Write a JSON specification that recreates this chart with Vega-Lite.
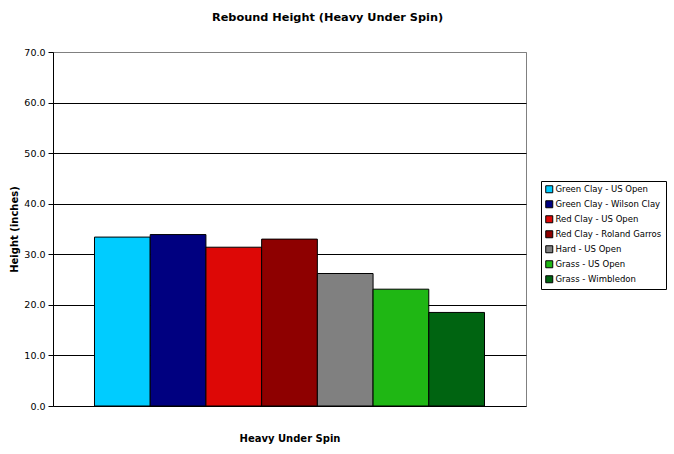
{
  "$schema": "https://vega.github.io/schema/vega-lite/v6.json",
  "width": 473,
  "height": 354,
  "autosize": {"type": "none"},
  "padding": {"left": 53, "top": 52, "right": 148, "bottom": 48},
  "background": "white",
  "title": {
    "text": "Rebound Height (Heavy Under Spin)",
    "font": "DejaVu Sans",
    "fontSize": 11.3,
    "fontWeight": "bold",
    "color": "black",
    "anchor": "start",
    "frame": "group",
    "dx": 159,
    "offset": 24
  },
  "data": {
    "values": [
      {"group": "Heavy Under Spin", "surface": "Green Clay - US Open", "height": 33.4},
      {"group": "Heavy Under Spin", "surface": "Green Clay - Wilson Clay", "height": 33.9},
      {"group": "Heavy Under Spin", "surface": "Red Clay - US Open", "height": 31.4},
      {"group": "Heavy Under Spin", "surface": "Red Clay - Roland Garros", "height": 33.0},
      {"group": "Heavy Under Spin", "surface": "Hard - US Open", "height": 26.2},
      {"group": "Heavy Under Spin", "surface": "Grass - US Open", "height": 23.1},
      {"group": "Heavy Under Spin", "surface": "Grass - Wimbledon", "height": 18.5}
    ]
  },
  "config": {
    "view": {"stroke": "#808080", "strokeWidth": 1},
    "font": "DejaVu Sans"
  },
  "mark": {"type": "bar", "stroke": "black", "strokeWidth": 1},
  "encoding": {
    "x": {
      "field": "group",
      "type": "nominal",
      "scale": {"paddingInner": 0, "paddingOuter": 0.1064},
      "axis": {
        "labels": false,
        "ticks": false,
        "domainColor": "black",
        "title": "Heavy Under Spin",
        "titleFont": "DejaVu Sans",
        "titleFontSize": 10,
        "titleFontWeight": "bold",
        "titleColor": "black",
        "titlePadding": 27
      }
    },
    "xOffset": {
      "field": "surface",
      "type": "nominal",
      "sort": ["Green Clay - US Open", "Green Clay - Wilson Clay", "Red Clay - US Open", "Red Clay - Roland Garros", "Hard - US Open", "Grass - US Open", "Grass - Wimbledon"],
      "scale": {"paddingInner": 0, "paddingOuter": 0}
    },
    "y": {
      "field": "height",
      "type": "quantitative",
      "scale": {"domain": [0, 70], "nice": false},
      "axis": {
        "values": [0, 10, 20, 30, 40, 50, 60, 70],
        "format": ".1f",
        "title": "Height (inches)",
        "titleFont": "DejaVu Sans",
        "titleFontSize": 10,
        "titleFontWeight": "bold",
        "titleColor": "black",
        "titlePadding": 4,
        "labelFont": "DejaVu Sans",
        "labelFontSize": 9.5,
        "labelColor": "black",
        "labelPadding": 3,
        "tickColor": "black",
        "tickSize": 5,
        "domainColor": "black",
        "grid": true,
        "gridColor": {"condition": {"test": "datum.value == 70 || datum.value == 0", "value": "#808080"}, "value": "black"},
        "gridOpacity": 1
      }
    },
    "color": {
      "field": "surface",
      "type": "nominal",
      "scale": {
        "domain": ["Green Clay - US Open", "Green Clay - Wilson Clay", "Red Clay - US Open", "Red Clay - Roland Garros", "Hard - US Open", "Grass - US Open", "Grass - Wimbledon"],
        "range": ["#00CCFF", "#000080", "#DD0806", "#8E0000", "#808080", "#1FB714", "#006411"]
      },
      "legend": {
        "title": null,
        "orient": "none",
        "legendX": 488,
        "legendY": 129,
        "strokeColor": "black",
        "padding": 4,
        "symbolType": "square",
        "symbolSize": 49,
        "symbolStrokeColor": "black",
        "symbolStrokeWidth": 1,
        "symbolOpacity": 1,
        "labelFont": "DejaVu Sans",
        "labelFontSize": 8.5,
        "labelColor": "black",
        "labelOffset": 2,
        "rowPadding": 3,
        "fillColor": "white"
      }
    }
  }
}
